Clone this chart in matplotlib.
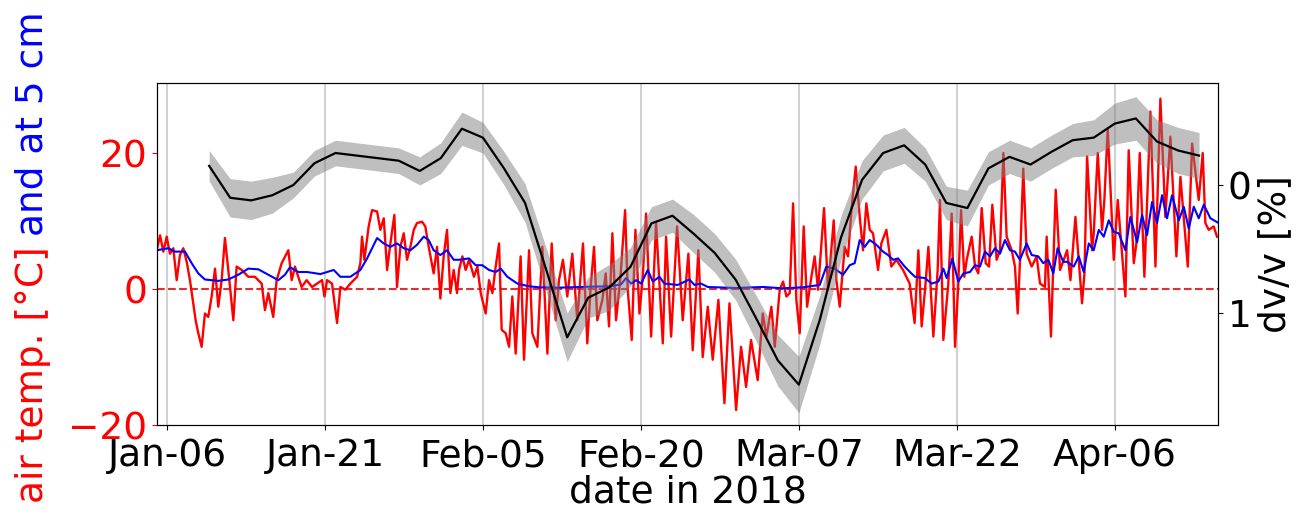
import numpy as np
import matplotlib
matplotlib.use('Agg')
import matplotlib.pyplot as plt
import matplotlib.dates as mdates
from datetime import datetime

# time axis in days since 2018-01-01 (0 = Jan-01)
air_day = [4.02,4.34,4.65,4.97,5.28,5.6,5.92,6.23,6.55,6.87,7.18,7.4,7.72,7.97,8.29,8.6,8.92,9.24,9.56,9.87,
           10.19,10.5,10.82,11.3,11.61,12.09,12.72,13.35,13.99,14.3,14.62,15.09,15.41,15.89,16.52,16.84,17.15,17.78,18.26,
           18.77,19.25,19.72,19.95,20.2,20.67,21.15,21.46,21.94,22.41,23.05,23.36,23.52,23.74,24.15,24.47,24.95,25.26,25.58,
           25.9,26.21,26.59,26.84,27.16,27.48,27.79,28.11,28.43,28.74,29.22,29.53,29.85,30.32,30.64,30.96,31.27,31.59,31.91,
           32.22,32.54,32.73,33.05,33.36,33.68,34.15,34.47,34.79,35.26,35.58,35.9,36.21,36.53,36.78,37.16,37.48,37.79,38.11,
           38.58,38.9,39.38,39.69,40.17,40.64,41.12,41.53,41.91,42.22,42.6,43.01,43.49,43.96,44.5,44.91,45.23,45.55,45.86,
           46.34,46.66,46.97,47.29,47.64,48.06,48.5,48.75,49.13,49.48,49.86,50.18,50.49,50.97,51.44,52.08,52.39,52.87,53.44,
           53.97,54.51,54.92,55.46,55.87,56.35,56.82,57.36,57.93,58.41,59.04,59.51,59.99,60.46,61.09,61.57,61.92,62.39,62.71,
           63.18,63.5,63.82,64.13,64.45,64.76,65.08,65.46,65.78,66.19,66.5,66.82,67.39,67.77,68.31,68.56,68.88,69.35,69.67,
           69.99,70.4,70.78,71.09,71.41,71.73,72.04,72.52,72.83,73.31,73.78,74.26,74.89,75.52,75.99,76.35,76.66,76.98,77.3,
           77.77,78.18,78.4,78.72,79.19,79.51,79.83,80.14,80.4,80.71,80.94,81.41,81.73,82.04,82.36,82.74,83.06,83.37,83.78,
           84.1,84.42,84.73,85.21,85.52,85.78,86.0,86.31,86.63,87.11,87.58,87.9,88.37,88.53,88.94,89.39,89.8,90.27,90.47,
           90.79,91.26,91.89,92.12,92.37,92.84,93.0,93.38,93.79,94.01,94.33,94.9,95.28,96.01,96.32,96.8,97.05,97.37,97.81,
           98.38,98.86,99.33,99.8,100.28,100.85,101.23,101.93,102.34,102.97,103.35,103.6,103.92,104.39,104.71]
air_temp = [5.7,7.9,5.5,7.7,5.2,6.0,1.3,5.0,6.0,4.0,1.3,-1.1,-4.6,-6.5,-8.5,-3.6,-4.1,-1.1,3.0,-2.6,
            1.3,7.5,2.8,-4.6,3.3,2.8,1.8,1.8,0.8,-3.1,-0.6,-4.1,1.3,3.8,5.7,1.3,3.3,0.3,1.3,
            0.3,0.8,1.3,-1.1,1.3,0.8,-5.0,0.3,-0.1,0.8,1.8,3.8,7.7,4.3,9.2,11.6,11.4,8.7,10.4,
            2.8,6.7,10.9,0.3,6.2,8.2,4.3,6.2,8.7,9.7,9.9,9.2,6.2,2.3,6.2,-1.4,4.8,8.7,-0.6,
            2.8,-0.6,2.8,4.8,2.8,4.3,1.8,3.3,-0.6,-3.6,1.3,-0.6,3.3,6.7,-6.0,-6.5,-8.5,-1.1,-9.5,
            4.8,-10.4,5.7,-6.5,-8.5,6.2,-9.5,6.7,-4.6,1.3,4.3,-1.1,5.2,-4.6,6.7,-8.0,0.3,6.2,-4.6,
            -1.6,2.3,-5.5,8.2,-4.6,1.8,11.6,-0.1,-7.5,8.7,-3.6,1.8,11.1,-7.0,9.7,-8.0,7.7,-7.0,9.2,
            -4.6,5.2,-9.0,5.7,-10.0,-2.6,-10.4,-1.6,-16.8,-2.1,-17.8,-8.5,-14.4,-7.5,-13.4,-3.6,-7.0,-2.6,-8.5,
            -0.1,1.1,-1.1,-0.6,12.6,-1.6,-6.5,9.2,-2.6,1.8,4.8,-0.1,11.9,-0.1,10.1,1.3,-2.6,6.2,4.8,
            11.6,18.0,10.6,5.7,12.6,8.7,8.2,2.8,6.7,8.7,3.3,4.3,2.8,0.8,-5.0,5.7,-5.5,-0.1,6.2,
            -7.0,2.8,13.1,-7.5,0.8,11.1,-8.5,0.8,11.6,1.8,4.3,7.7,3.3,2.3,11.9,3.8,3.3,12.4,4.3,
            5.7,20.0,7.7,5.7,3.3,-3.6,4.3,17.7,5.2,3.3,4.8,0.8,0.3,7.7,-7.0,14.6,2.8,4.8,5.7,
            1.3,10.6,-2.1,2.3,19.5,5.7,8.2,20.0,8.7,13.1,23.6,4.3,13.1,-1.1,20.4,3.8,6.7,20.0,1.8,
            26.1,3.3,28.0,10.6,22.4,4.8,16.5,3.3,21.4,13.1,20.0,9.7,8.7,9.2,7.7]

soil_day = [4.02,5.13,5.76,6.71,7.34,7.97,8.6,9.87,10.82,11.77,12.72,13.67,14.62,15.57,16.2,16.68,17.47,
            18.3,19.57,20.83,21.46,22.41,23.36,24.0,24.95,25.58,26.21,26.84,27.48,28.11,28.74,29.38,29.85,30.32,
            30.96,31.59,32.22,32.73,33.68,34.31,34.94,35.58,36.21,36.69,37.32,38.27,39.38,40.33,42.22,45.39,
            47.17,48.12,48.59,49.07,49.54,50.02,50.65,51.13,51.76,52.23,53.5,54.6,55.08,55.71,56.35,59.0,
            61.6,63.5,65.4,66.98,67.61,68.4,69.2,69.83,70.3,70.78,71.25,71.73,72.36,72.99,73.47,73.94,74.42,
            75.05,75.68,76.03,76.98,77.61,78.25,78.72,79.04,79.57,80.14,80.62,81.25,81.73,82.2,82.67,83.15,
            83.62,84.1,84.57,85.05,85.52,85.99,86.63,87.11,87.74,88.21,88.69,89.16,89.57,90.11,90.47,91.1,
            91.58,92.05,92.53,93.0,93.48,93.95,94.43,94.9,95.37,96.01,96.48,97.12,97.59,98.06,98.54,99.01,
            99.49,99.96,100.44,101.07,101.55,102.02,102.5,102.97,103.45,104.08,104.87]
soil_temp = [5.7,6.0,5.5,5.5,3.8,2.3,1.4,1.2,1.4,2.1,3.0,2.9,2.1,1.3,2.1,3.2,2.5,
             2.5,2.2,2.8,1.8,1.8,2.8,4.5,7.5,6.7,6.2,6.7,6.0,5.7,6.5,7.7,7.2,5.7,
             5.0,5.7,4.3,4.3,4.5,3.5,3.5,2.8,2.5,3.0,1.8,0.8,0.4,0.25,0.2,0.35,
             0.4,0.7,1.6,0.8,1.3,0.8,2.8,1.1,1.8,0.8,0.6,1.4,0.6,0.8,0.3,0.15,
             0.3,0.1,0.25,0.6,3.3,3.0,2.1,3.5,3.8,7.2,6.2,7.2,6.5,5.5,5.0,4.3,4.5,
             3.3,2.3,1.8,1.6,0.8,1.1,3.0,1.6,4.5,1.1,2.3,2.5,3.5,3.3,5.5,4.8,
             6.0,5.2,7.2,5.7,5.5,4.3,6.7,5.0,4.8,3.8,4.3,2.3,6.0,4.0,4.0,3.3,
             4.8,2.5,6.7,5.7,8.7,7.7,10.1,8.4,8.2,5.7,10.6,6.9,10.9,7.9,12.8,9.7,
             13.8,10.4,13.8,10.1,12.1,8.9,12.1,10.4,12.4,10.4,9.7]

# dv/v every 2 days from Jan-10
dvv_day = np.arange(9, 104, 2)
dvv = [-0.15,0.10,0.12,0.08,0.0,-0.17,-0.25,-0.23,-0.21,-0.19,-0.11,-0.21,-0.44,-0.37,-0.13,0.14,
       0.66,1.19,0.88,0.80,0.64,0.30,0.24,0.38,0.53,0.74,1.05,1.37,1.56,1.05,0.41,-0.04,
       -0.25,-0.31,-0.16,0.14,0.18,-0.13,-0.22,-0.16,-0.26,-0.35,-0.37,-0.48,-0.52,-0.34,-0.27,-0.23]
dvv_err = [0.12,0.15,0.15,0.14,0.10,0.10,0.10,0.10,0.10,0.10,0.11,0.12,0.13,0.12,0.13,0.15,
           0.17,0.19,0.16,0.18,0.15,0.13,0.13,0.15,0.15,0.16,0.18,0.20,0.22,0.19,0.17,0.15,
           0.14,0.14,0.13,0.13,0.14,0.13,0.13,0.13,0.13,0.13,0.14,0.16,0.17,0.17,0.18,0.18]

xticks_day = [5, 20, 35, 50, 65, 80, 95]

base = mdates.date2num(datetime(2018, 1, 1))
t_air = base + np.array(air_day)
t_soil = base + np.array(soil_day)
t_dvv = base + dvv_day
dvv = np.array(dvv)
dvv_err = np.array(dvv_err)

fs = 27
fig = plt.figure(figsize=(12.96, 5.14), dpi=100)
ax = fig.add_axes([157/1296, 1-425/514, (1218-157)/1296, (425-83)/514])

ax.plot(t_air, air_temp, color='red', lw=1.7, zorder=2)
ax.plot(t_soil, soil_temp, color='blue', lw=1.5, zorder=3)
ax.axhline(0, color='#e03030', ls='--', lw=1.5, zorder=1)
ax.grid(axis='x', color='#c8c8c8', lw=1.2)
ax.set_xlim(base + 4.05, base + 104.8)
ax.set_ylim(-20, 30.3)
ax.set_yticks([-20, 0, 20])
ax.tick_params(axis='y', colors='red', labelsize=fs)
ax.tick_params(axis='x', labelsize=fs, pad=6)
ax.set_xticks(base + np.array(xticks_day))
ax.xaxis.set_major_formatter(mdates.DateFormatter('%b-%d'))
ax.set_xlabel('date in 2018', fontsize=fs, labelpad=0)

ax2 = ax.twinx()
ax2.fill_between(t_dvv, dvv - dvv_err, dvv + dvv_err, color='gray', alpha=0.5, lw=0)
ax2.plot(t_dvv, dvv, color='k', lw=1.6)
ax2.set_ylim(1.875, -0.797)
ax2.set_yticks([0, 1])
ax2.tick_params(axis='y', labelsize=fs)
ax2.set_ylabel('dv/v [%]', fontsize=fs, labelpad=4)

# two-coloured y label on the left
t1 = fig.text(33/1296, 1-503/514, 'air temp. [°C]', color='red', fontsize=fs,
              rotation=90, ha='center', va='bottom')
fig.canvas.draw()
bb = t1.get_window_extent()
y_top = (bb.y1 + 10) / fig.bbox.height
fig.text(33/1296, y_top, 'and at 5 cm', color='blue', fontsize=fs,
         rotation=90, ha='center', va='bottom')

fig.savefig('out.png', dpi=100)
